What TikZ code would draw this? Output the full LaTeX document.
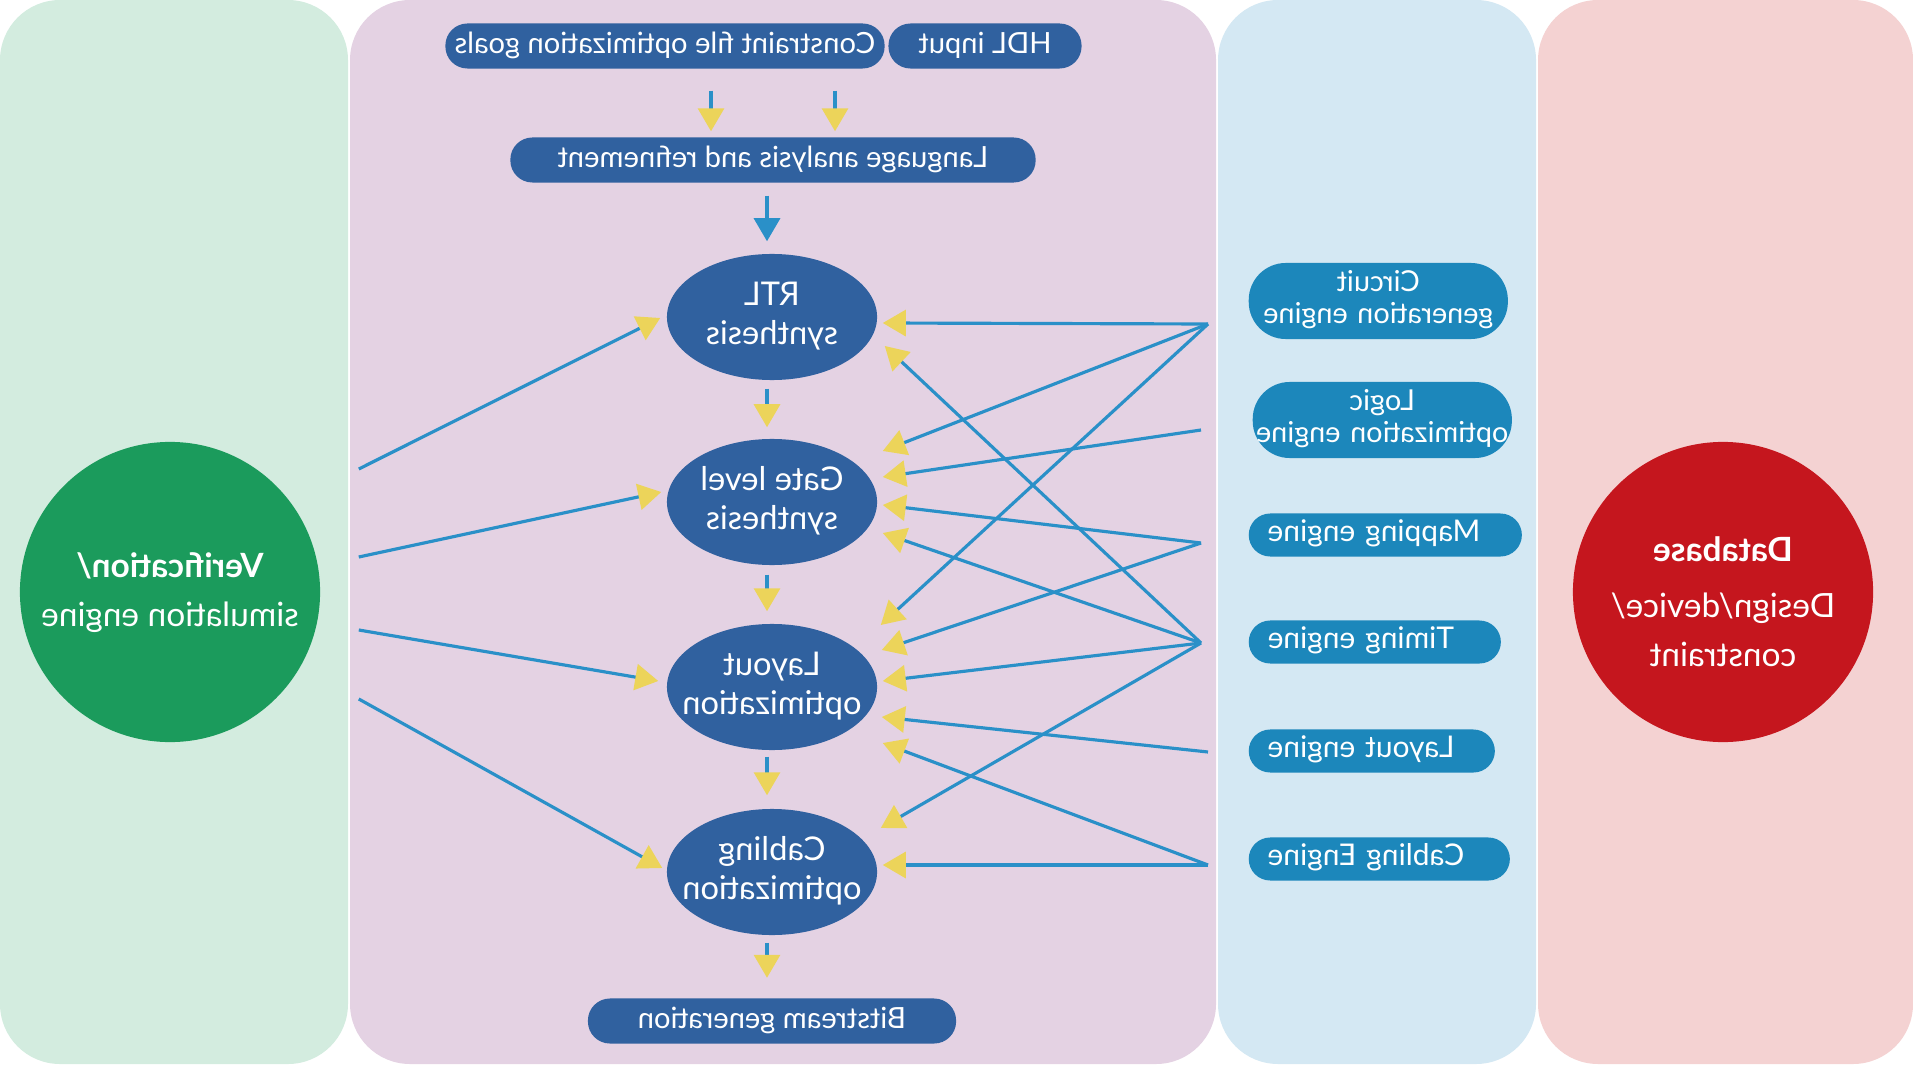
\documentclass[tikz,border=0pt]{standalone}
\usepackage{fontspec}
\setmainfont{Lato}
\usepackage{graphicx}
\usetikzlibrary{arrows.meta, calc, shapes.geometric}

\definecolor{bgGreen}{HTML}{D3ECDF}
\definecolor{bgPurple}{HTML}{E4D2E3}
\definecolor{bgBlue}{HTML}{D4E8F3}
\definecolor{bgPink}{HTML}{F4D2D2}
\definecolor{cVerif}{HTML}{1B9B5C}
\definecolor{cData}{HTML}{C5161E}
\definecolor{cStage}{HTML}{30619F}
\definecolor{cEngine}{HTML}{1C87BB}
\definecolor{cLine}{HTML}{2A90C8}
\definecolor{cTip}{HTML}{ECD45A}

% the source figure is printed mirror-wise
\newcommand{\mirtext}[1]{\reflectbox{\begin{tabular}{@{}c@{}}#1\end{tabular}}}

\begin{document}
\begin{tikzpicture}[x=0.01cm, y=-0.01cm,
    stage/.style={ellipse, fill=cStage, text=white, minimum width=2.1cm, minimum height=1.26cm,
                  inner xsep=-0.4cm, inner ysep=0pt, font=\fontsize{9.3}{11}\selectfont},
    pill/.style={rectangle, rounded corners=0.22cm, fill=cStage, text=white, minimum height=0.45cm,
                 inner sep=0pt, font=\fontsize{8.3}{10}\selectfont},
    engine/.style={rectangle, fill=cEngine, text=white, inner ysep=0pt,
                   anchor=west, font=\fontsize{8.5}{9.2}\selectfont},
    engineA/.style={engine, inner xsep=0.19cm, rounded corners=0.215cm, minimum height=0.43cm, align=left},
    engineB/.style={engine, inner xsep=0.02cm, text width=2.55cm, rounded corners=0.37cm,
                    minimum height=0.76cm, align=center, font=\fontsize{8.2}{9.2}\selectfont},
    hub/.style={circle, minimum size=3cm, inner sep=0pt, text=white, font=\fontsize{9.5}{14}\selectfont},
    flow/.style={draw=cLine, line width=0.9pt, -{Triangle[length=0.23cm, width=0.26cm, color=cTip]}},
    flowblue/.style={flow, -{Triangle[length=0.23cm, width=0.26cm, color=cLine]}}]

    \useasboundingbox (0,0) rectangle (1913,1064);

    % Background columns
    \fill[bgGreen, rounded corners=0.6cm]  (0,0)    rectangle (348,1064);
    \fill[bgPurple, rounded corners=0.6cm] (350,0)  rectangle (1216,1064);
    \fill[bgBlue, rounded corners=0.6cm]   (1218,0) rectangle (1536,1064);
    \fill[bgPink, rounded corners=0.6cm]   (1538,0) rectangle (1913,1064);

    % Side hubs
    \node[hub, fill=cVerif] (verif) at (170,592) {\mirtext{\textbf{Verification/}\\simulation engine}};
    \node[hub, fill=cData]  (dbase) at (1723,592)
        {\raisebox{-0.12cm}[\height][\depth]{\mirtext{\textbf{Database}\\[2pt]Design/device/\\constraint}}};

    % Input and output pills
    \node[pill, minimum width=4.39cm] (cons) at (665,46)    {\mirtext{Constraint file optimization goals}};
    \node[pill, minimum width=1.93cm] (hdl)  at (985,46)    {\mirtext{HDL input}};
    \node[pill, minimum width=5.25cm] (lang) at (773,160)   {\mirtext{Language analysis and refinement}};
    \node[pill, minimum width=3.68cm] (bits) at (772,1021)  {\mirtext{Bitstream generation}};

    % Flow stages
    \node[stage] (rtl)  at (772,317) {\mirtext{RTL\\synthesis}};
    \node[stage] (gate) at (772,502) {\mirtext{Gate level\\synthesis}};
    \node[stage] (lay)  at (772,687) {\mirtext{Layout\\optimization}};
    \node[stage] (cab)  at (772,872) {\mirtext{Cabling\\optimization}};

    % Engines
    \node[engineB] (circ)   at (1248,301) {\mirtext{Circuit\\generation engine}};
    \node[engineB] (logic)  at (1252,420) {\mirtext{Logic\\optimization engine}};
    \node[engineA, text width=2.35cm] (mapE)   at (1248,535) {\mirtext{Mapping engine}};
    \node[engineA, text width=2.14cm] (timeE)  at (1248,642) {\mirtext{Timing engine}};
    \node[engineA, text width=2.08cm] (layE)   at (1248,751) {\mirtext{Layout engine}};
    \node[engineA, text width=2.23cm] (cabE)   at (1248,859) {\mirtext{Cabling Engine}};

    % Free ends of the fans
    \coordinate (v1) at ($(verif.east)+(38,-123)$);
    \coordinate (v2) at ($(verif.east)+(38,-35)$);
    \coordinate (v3) at ($(verif.east)+(38,38)$);
    \coordinate (v4) at ($(verif.east)+(38,107)$);
    \coordinate (p1) at ($(circ.west)+(-40,23)$);
    \coordinate (p2) at ($(logic.west)+(-51,10)$);
    \coordinate (p3) at ($(mapE.west)+(-47,8)$);
    \coordinate (p4) at ($(timeE.west)+(-47,1)$);
    \coordinate (p5) at ($(layE.west)+(-40,1)$);
    \coordinate (p6) at ($(cabE.west)+(-40,6)$);

    % Main flow, top to bottom
    \draw[flow] ($(cons.south)+(46,21.5)$) -- ($(lang.north)+(-62,-5.5)$);
    \draw[flow] ($(hdl.south)+(-150,21.5)$) -- ($(lang.north)+(62,-5.5)$);
    \draw[flowblue] ($(lang.south)+(-6,12.5)$) -- ($(rtl.north)+(-5,-12)$);
    \draw[flow] ($(rtl.south)+(-5,8)$)  -- ($(gate.north)+(-5,-11)$);
    \draw[flow] ($(gate.south)+(-5,9)$) -- ($(lay.north)+(-5,-12)$);
    \draw[flow] ($(lay.south)+(-5,6)$)  -- ($(cab.north)+(-5,-13)$);
    \draw[flow] ($(cab.south)+(-5,7)$)  -- ($(bits.north)+(-5,-20)$);

    % Verification fan
    \draw[flow] (v1) -- ($(rtl.west)+(-6,1)$);
    \draw[flow] (v2) -- ($(gate.west)+(-5,-10)$);
    \draw[flow] (v3) -- ($(lay.west)+(-8,-6)$);
    \draw[flow] (v4) -- ($(cab.west)+(-4,-4)$);

    % Engine fans
    \draw[flow] (p1) -- ($(rtl.east)+(5,6)$);
    \draw[flow] (p1) -- ($(gate.east)+(5,-51)$);
    \draw[flow] (p1) -- ($(lay.east)+(3,-62)$);
    \draw[flow] (p2) -- ($(gate.east)+(5,-25)$);
    \draw[flow] (p3) -- ($(gate.east)+(5,3)$);
    \draw[flow] (p3) -- ($(lay.east)+(4,-37)$);
    \draw[flow] (p4) -- ($(rtl.east)+(7,29)$);
    \draw[flow] (p4) -- ($(gate.east)+(5,31)$);
    \draw[flow] (p4) -- ($(lay.east)+(5,-6)$);
    \draw[flow] (p4) -- ($(cab.east)+(3,-44)$);
    \draw[flow] (p5) -- ($(lay.east)+(4,30)$);
    \draw[flow] (p6) -- ($(lay.east)+(5,56)$);
    \draw[flow] (p6) -- ($(cab.east)+(5,-7)$);

\end{tikzpicture}
\end{document}
